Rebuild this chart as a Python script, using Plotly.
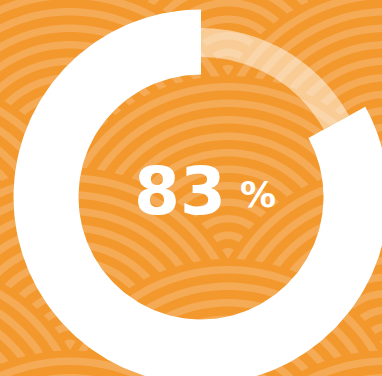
import numpy as np
import plotly.graph_objects as go

# ---- data ----
labels = ["Completed", "Remaining"]
values = [83, 17]
center_value = "83"
center_unit = "%"

# ---- style / layout constants ----
W, H = 382, 376
BG = "#F3982D"
BAND = "#F5AA55"
CX, CY = 201, 197
R_OUT, R_IN = 187.5, 122.5          # main (white) ring
R2_OUT, R2_IN = 169, 140            # thin translucent ring

fig = go.Figure()

# ---- seigaiha background pattern (decoration) ----
SC_R = 182.0
STEP = 16.5
BW = 7.5
FIRST = 19.0
CORE = 10.0
ROW_DY = 91.5
ROW0_Y = 258
shapes = []


def half_arc(cx, cy, r, n=60, reverse=False):
    t = np.linspace(0, np.pi, n)
    if reverse:
        t = t[::-1]
    xs = cx - r * np.cos(t)
    ys = cy - r * np.sin(t)
    return list(zip(xs, ys))


def path_from(pts):
    return "M " + " L ".join(f"{x:.2f},{y:.2f}" for x, y in pts) + " Z"


rows = []
for k in range(-2, 4):
    cy = ROW0_Y + ROW_DY * k
    base = 228 if k % 2 == 0 else 70
    xs = [base + 316 * i for i in range(-2, 3)]
    xs = [x for x in xs if x - SC_R < W and x + SC_R > 0]
    rows.append((cy, xs))

for cy, xs in rows:
    for cx in xs:
        shapes.append(dict(type="path", xref="x", yref="y", layer="below",
                           path=path_from(half_arc(cx, cy, SC_R)),
                           fillcolor=BG, line=dict(width=0)))
        shapes.append(dict(type="path", xref="x", yref="y", layer="below",
                           path=path_from(half_arc(cx, cy, CORE)),
                           fillcolor=BAND, line=dict(width=0)))
        r0 = FIRST
        while r0 + BW <= SC_R:
            r1 = r0 + BW
            pts = half_arc(cx, cy, r1) + half_arc(cx, cy, r0, reverse=True)
            shapes.append(dict(type="path", xref="x", yref="y", layer="below",
                               path=path_from(pts),
                               fillcolor=BAND, line=dict(width=0)))
            r0 += STEP


# ---- donut built from values ----
def ring_slice(a0, a1, r_in, r_out, n=200):
    t = np.radians(np.linspace(a0, a1, n))
    xo = CX + r_out * np.cos(t)
    yo = CY - r_out * np.sin(t)
    xi = CX + r_in * np.cos(t[::-1])
    yi = CY - r_in * np.sin(t[::-1])
    return np.concatenate([xo, xi, xo[:1]]), np.concatenate([yo, yi, yo[:1]])


total = sum(values)
start = 90.0
done_sweep = 360.0 * values[0] / total
rest_sweep = 360.0 * values[1] / total

# completed part: counter-clockwise from 12 o'clock
x1, y1 = ring_slice(start, start + done_sweep, R_IN, R_OUT)
fig.add_trace(go.Scatter(x=x1, y=y1, mode="lines", fill="toself",
                         fillcolor="#FFFFFF", line=dict(width=0),
                         name=labels[0], hoverinfo="skip"))
# remaining part: thin translucent ring, clockwise from 12 o'clock
x2, y2 = ring_slice(start - rest_sweep, start, R2_IN, R2_OUT)
fig.add_trace(go.Scatter(x=x2, y=y2, mode="lines", fill="toself",
                         fillcolor="rgba(255,255,255,0.5)", line=dict(width=0),
                         name=labels[1], hoverinfo="skip"))

fig.add_annotation(x=180, y=191, xref="x", yref="y", text=center_value,
                   showarrow=False, xanchor="center", yanchor="middle",
                   font=dict(family="DejaVu Sans", size=66, color="white", weight="bold"))
fig.add_annotation(x=258, y=194, xref="x", yref="y", text=center_unit,
                   showarrow=False, xanchor="center", yanchor="middle",
                   font=dict(family="DejaVu Sans", size=36, color="white", weight="bold"))

fig.update_layout(
    width=W, height=H,
    margin=dict(l=0, r=0, t=0, b=0, pad=0),
    paper_bgcolor=BG, plot_bgcolor=BG,
    showlegend=False,
    shapes=shapes,
    xaxis=dict(range=[0, W], visible=False, fixedrange=True),
    yaxis=dict(range=[H, 0], visible=False, fixedrange=True),
)

fig.write_html("out.html", config={"displayModeBar": False, "staticPlot": True})
